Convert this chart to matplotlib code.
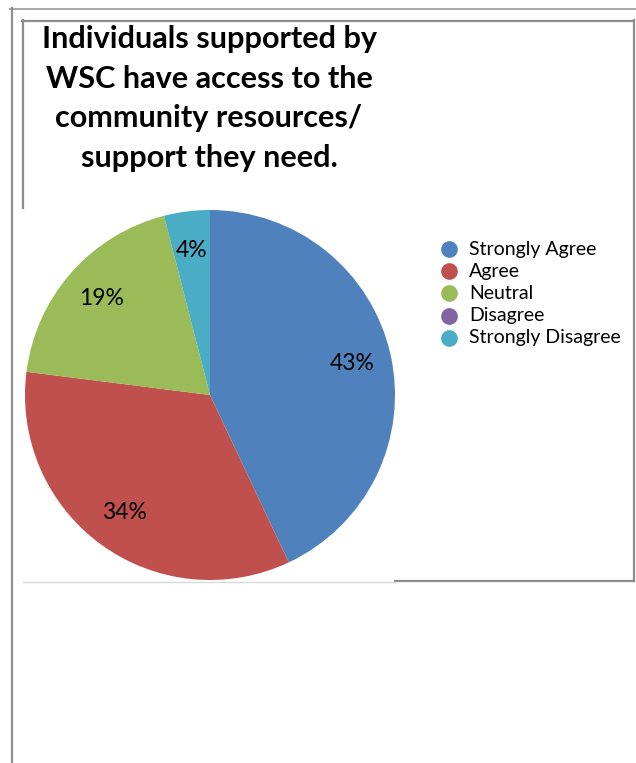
import matplotlib.pyplot as plt
from matplotlib.lines import Line2D

plt.rcParams['font.family'] = ['Lato', 'DejaVu Sans']

# --- Survey data ---
responses = ["Strongly Agree", "Agree", "Neutral", "Disagree", "Strongly Disagree"]
shares = [43, 34, 19, 0, 4]
colors = ["#4F81BD", "#C0504D", "#9BBB59", "#8064A2", "#4BACC6"]
title_lines = ["Individuals supported by", "WSC have access to the",
               "community resources/", "support they need."]

W, H = 636, 763
fig = plt.figure(figsize=(W / 100, H / 100), dpi=100)
fig.patch.set_facecolor("white")


def px(x, y):
    # pixel position (from top-left) -> figure fraction
    return x / W, 1 - y / H


def hline(x0, x1, y, color, lw):
    a, b = px(x0, y)
    c, _ = px(x1, y)
    fig.add_artist(Line2D([a, c], [b, b], color=color, lw=lw, transform=fig.transFigure))


def vline(x, y0, y1, color, lw):
    a, b = px(x, y0)
    _, d = px(x, y1)
    fig.add_artist(Line2D([a, a], [b, d], color=color, lw=lw, transform=fig.transFigure))


# --- Frames ---
hline(10, 636, 8.5, "#a8a8a8", 1.5)
vline(11.5, 8, 763, "#8e8e8e", 1.6)
hline(22, 634, 20.5, "#8c8c8c", 1.6)
vline(23, 20, 208, "#8c8c8c", 1.6)
vline(633.5, 20, 581, "#8c8c8c", 1.6)
hline(395, 634, 580.5, "#8c8c8c", 1.6)
hline(23, 395, 582, "#d9d9d9", 1.0)

# --- Pie ---
cx, cy, r = 210, 395, 185
left, top = px(cx - r, cy - r)
ax = fig.add_axes([left, top - 2 * r / H, 2 * r / W, 2 * r / H])
wedges, texts, autotexts = ax.pie(
    shares, colors=colors, startangle=90, counterclock=False, radius=1,
    autopct=lambda p: f"{p:.0f}%" if p > 0.5 else "", pctdistance=0.785,
    textprops={"fontsize": 16.5, "color": "black"})
ax.set_xlim(-1, 1)
ax.set_ylim(-1, 1)
ax.set_aspect("equal")
ax.axis("off")

# --- Title ---
for i, line in enumerate(title_lines):
    x, y = px(209, 39 + i * 39.7)
    fig.text(x, y, line, ha="center", va="center", fontsize=22.1,
             fontweight="bold", color="black")

# --- Legend ---
for i, (name, col) in enumerate(zip(responses, colors)):
    yy = 249 + i * 22.2
    mx, my = px(449, yy)
    fig.add_artist(Line2D([mx], [my], marker="o", markersize=11, color=col,
                          transform=fig.transFigure))
    tx, ty = px(469, yy)
    fig.text(tx, ty, name, ha="left", va="center", fontsize=14, color="black")

fig.savefig("out.png", dpi=100, facecolor="white")
